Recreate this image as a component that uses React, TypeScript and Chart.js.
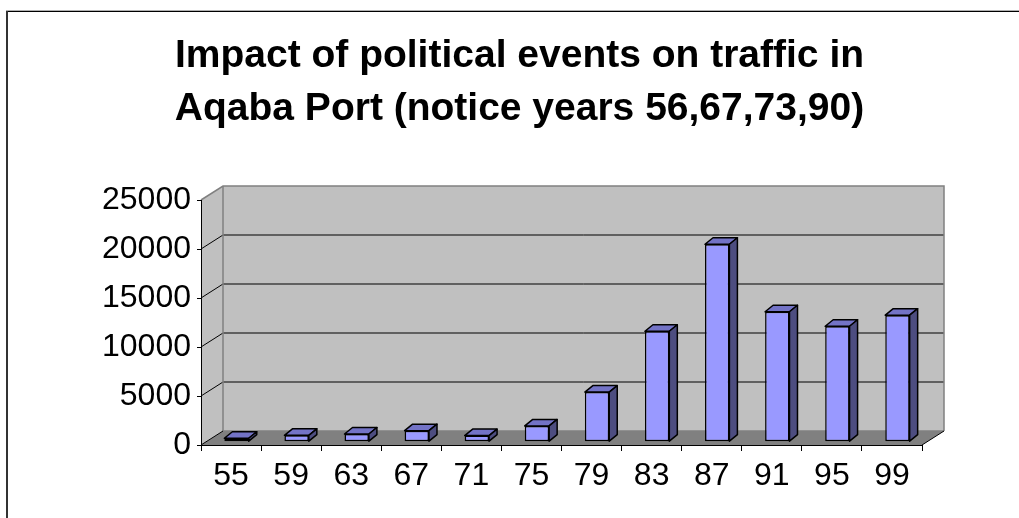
import React, { useEffect, useRef } from 'react';
import { Chart, registerables } from 'chart.js';

Chart.register(...registerables);

// ---- data ----
const categories = ['55', '59', '63', '67', '71', '75', '79', '83', '87', '91', '95', '99'];
const traffic = [350, 650, 790, 1130, 620, 1610, 5060, 11270, 20150, 13260, 11780, 12910];
const yTicks = [0, 5000, 10000, 15000, 20000, 25000];
const titleLines = [
  'Impact of political events on traffic in',
  'Aqaba Port (notice years 56,67,73,90)',
];

// ---- styling ----
const FONT = "'Liberation Sans', Arial, Helvetica, sans-serif";
const WALL_DX = 22;
const WALL_DY = -14;
const BAR_DX = 5.5;
const BAR_DY = -3.3;
const DEPTH_X = 8;
const DEPTH_Y = -6.5;

const excel3d = {
  id: 'excel3d',
  beforeDraw(chart: any) {
    const ctx = chart.ctx as CanvasRenderingContext2D;
    const { left, right, top, bottom } = chart.chartArea;
    const ys = chart.scales.y;
    ctx.save();
    ctx.fillStyle = '#ffffff';
    ctx.fillRect(0, 0, chart.width, chart.height);

    // outer frame (left & top visible)
    ctx.fillStyle = '#b0b0b0';
    ctx.fillRect(6, 10, chart.width - 6, 1);
    ctx.fillStyle = '#000000';
    ctx.fillRect(6, 11, chart.width - 6, 1);
    ctx.fillStyle = '#333333';
    ctx.fillRect(6, 11, 2, chart.height - 11);

    const bl = left + WALL_DX;
    const br = right + WALL_DX;
    const bt = top + WALL_DY;
    const bb = bottom + WALL_DY;

    // back wall
    ctx.fillStyle = '#c0c0c0';
    ctx.fillRect(bl, bt, br - bl, bb - bt);
    // side wall
    ctx.beginPath();
    ctx.moveTo(left, top);
    ctx.lineTo(bl, bt);
    ctx.lineTo(bl, bb);
    ctx.lineTo(left, bottom);
    ctx.closePath();
    ctx.fill();
    // floor
    ctx.fillStyle = '#808080';
    ctx.beginPath();
    ctx.moveTo(left, bottom);
    ctx.lineTo(right, bottom);
    ctx.lineTo(br, bb);
    ctx.lineTo(bl, bb);
    ctx.closePath();
    ctx.fill();

    // gridlines
    ctx.strokeStyle = '#000000';
    ctx.lineWidth = 1;
    yTicks.forEach((v) => {
      if (v === 0 || v === yTicks[yTicks.length - 1]) return;
      const py = ys.getPixelForValue(v);
      ctx.beginPath();
      ctx.moveTo(left, py);
      ctx.lineTo(bl, py + WALL_DY);
      ctx.lineTo(br, py + WALL_DY);
      ctx.stroke();
    });

    // wall edges
    ctx.strokeStyle = '#808080';
    ctx.lineWidth = 1.5;
    ctx.beginPath();
    ctx.moveTo(left, top);
    ctx.lineTo(bl, bt);
    ctx.lineTo(br, bt);
    ctx.lineTo(br, bb);
    ctx.stroke();
    ctx.beginPath();
    ctx.moveTo(bl, bt);
    ctx.lineTo(bl, bb);
    ctx.lineTo(br, bb);
    ctx.stroke();

    ctx.strokeStyle = '#000000';
    ctx.lineWidth = 1;
    ctx.beginPath();
    ctx.moveTo(left, bottom);
    ctx.lineTo(bl, bb);
    ctx.moveTo(right, bottom);
    ctx.lineTo(br, bb);
    ctx.stroke();
    ctx.restore();
  },
  beforeDatasetsDraw(chart: any) {
    chart.ctx.save();
    chart.ctx.translate(BAR_DX, BAR_DY);
  },
  afterDatasetsDraw(chart: any) {
    const ctx = chart.ctx as CanvasRenderingContext2D;
    const meta = chart.getDatasetMeta(0);
    ctx.lineJoin = 'round';
    ctx.lineWidth = 1.5;
    ctx.strokeStyle = '#000000';
    meta.data.forEach((el: any) => {
      const { x, y, base, width } = el.getProps(['x', 'y', 'base', 'width'], true);
      const x0 = x - width / 2;
      const x1 = x + width / 2;
      // top face
      ctx.fillStyle = '#7373c6';
      ctx.beginPath();
      ctx.moveTo(x0, y);
      ctx.lineTo(x1, y);
      ctx.lineTo(x1 + DEPTH_X, y + DEPTH_Y);
      ctx.lineTo(x0 + DEPTH_X, y + DEPTH_Y);
      ctx.closePath();
      ctx.fill();
      ctx.stroke();
      // side face
      ctx.fillStyle = '#4d4d80';
      ctx.beginPath();
      ctx.moveTo(x1, y);
      ctx.lineTo(x1 + DEPTH_X, y + DEPTH_Y);
      ctx.lineTo(x1 + DEPTH_X, base + DEPTH_Y);
      ctx.lineTo(x1, base);
      ctx.closePath();
      ctx.fill();
      ctx.stroke();
    });
    ctx.restore();
  },
};

export default function App() {
  const canvasRef = useRef<HTMLCanvasElement | null>(null);

  useEffect(() => {
    if (!canvasRef.current) return;
    const chart = new Chart(canvasRef.current, {
      type: 'bar',
      data: {
        labels: categories,
        datasets: [
          {
            data: traffic,
            backgroundColor: '#9999ff',
            borderColor: '#000000',
            borderWidth: 1.5,
            borderSkipped: false,
            categoryPercentage: 1,
            barPercentage: 0.406,
          },
        ],
      },
      options: {
        responsive: false,
        animation: false,
        devicePixelRatio: 1,
        events: [],
        layout: { padding: { left: 20, right: 0, top: 0, bottom: 0 } },
        plugins: {
          legend: { display: false },
          tooltip: { enabled: false },
          title: {
            display: true,
            text: titleLines,
            color: '#000000',
            font: { family: FONT, size: 39, weight: 'bold', lineHeight: 53 / 39 },
            padding: { top: 29.3, bottom: 64.7 },
          },
        },
        scales: {
          x: {
            type: 'category',
            grid: {
              display: true,
              drawOnChartArea: false,
              drawTicks: true,
              tickLength: 6,
              color: '#000000',
              offset: true,
            },
            border: { display: true, color: '#000000', width: 1 },
            ticks: {
              color: '#000000',
              font: { family: FONT, size: 32 },
              padding: 6,
              maxRotation: 0,
              autoSkip: false,
            },
            afterFit: (s: any) => {
              s.height = 73;
            },
          },
          y: {
            min: 0,
            max: 25000,
            afterBuildTicks: (s: any) => {
              s.ticks = yTicks.map((v) => ({ value: v }));
            },
            grid: {
              display: true,
              drawOnChartArea: false,
              drawTicks: true,
              tickLength: 4,
              color: '#000000',
            },
            border: { display: true, color: '#000000', width: 1 },
            ticks: {
              color: '#000000',
              font: { family: FONT, size: 32 },
              padding: 6,
              callback: (v: any) => String(v),
            },
            afterFit: (s: any) => {
              s.width = 181;
            },
          },
          yRightSpace: {
            type: 'linear',
            position: 'right',
            display: true,
            grid: { display: false },
            border: { display: false },
            ticks: { display: false },
            afterFit: (s: any) => {
              s.width = 97;
            },
          },
        },
      },
      plugins: [excel3d],
    } as any);
    return () => chart.destroy();
  }, []);

  return (
    <div style={{ position: 'absolute', left: 0, top: 0, width: 1019, height: 518 }}>
      <canvas ref={canvasRef} width={1019} height={518} style={{ display: 'block' }} />
    </div>
  );
}
